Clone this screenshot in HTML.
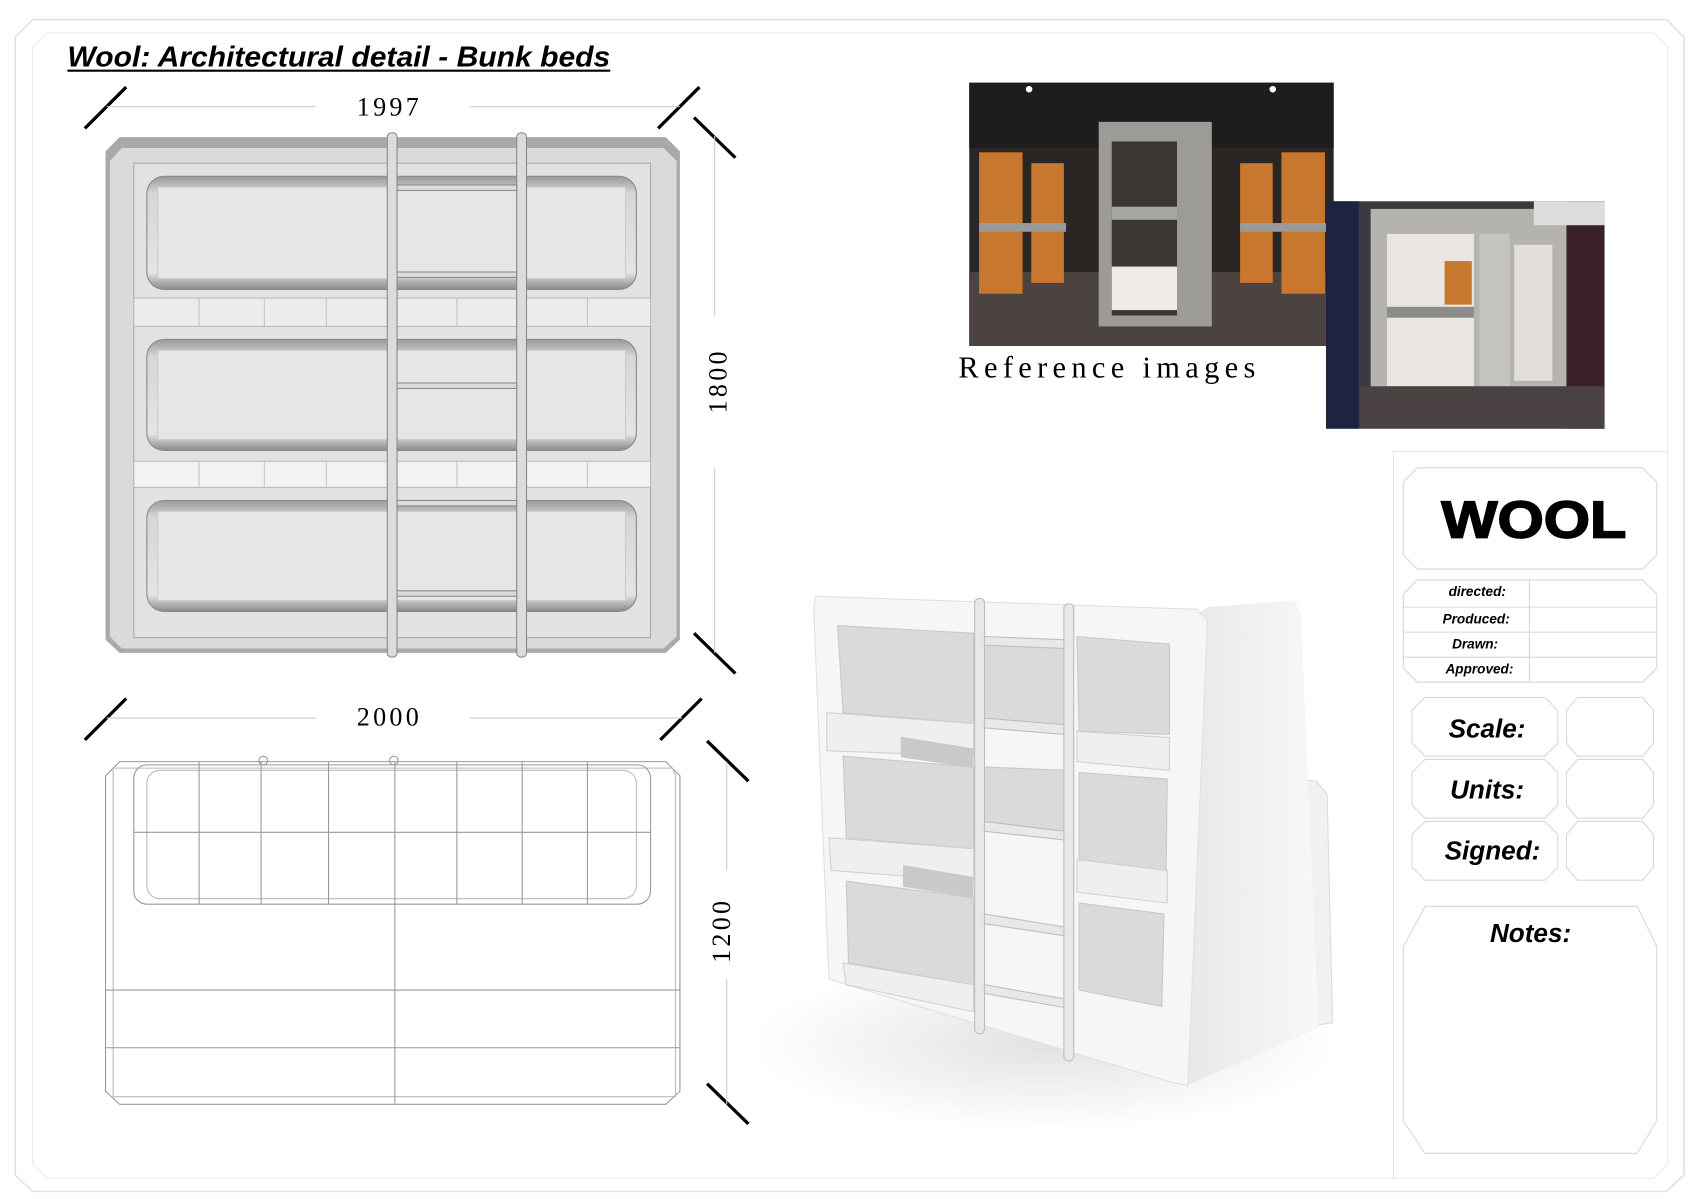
<!DOCTYPE html>
<html><head><meta charset="utf-8"><style>
html,body{margin:0;padding:0;background:#fff;}
svg{display:block;}
</style></head><body>
<svg width="1697" height="1199" viewBox="0 0 1560 1102" preserveAspectRatio="none" xmlns="http://www.w3.org/2000/svg" font-family="Liberation Sans, sans-serif">
<defs>
<linearGradient id="pg" x1="0" y1="0" x2="0" y2="1"><stop offset="0" stop-color="#9a9a9a"/><stop offset="0.15" stop-color="#d6d6d6"/><stop offset="0.85" stop-color="#e4e4e4"/><stop offset="1" stop-color="#8a8a8a"/></linearGradient>
<linearGradient id="sh" x1="0" y1="0" x2="1" y2="0"><stop offset="0" stop-color="#e8e8e8"/><stop offset="1" stop-color="#f8f8f8"/></linearGradient>
<radialGradient id="shadow" cx="0.5" cy="0.5" r="0.5"><stop offset="0" stop-color="#cfcfcf"/><stop offset="1" stop-color="#ffffff"/></radialGradient>
</defs>
<path d="M30,18 H1532 L1548,34 V1080 L1532,1095 H30 L14,1080 V34 Z" fill="none" stroke="#e2e2e2" stroke-width="1.5"/>
<path d="M44,30 H1520 L1533,43 V1070 L1520,1083 H44 L30,1070 V43 Z" fill="none" stroke="#ececec" stroke-width="1"/>
<text x="62" y="61" font-size="26" font-weight="bold" font-style="italic" fill="#000" textLength="499" lengthAdjust="spacingAndGlyphs">Wool: Architectural detail - Bunk beds</text>
<line x1="62" y1="65" x2="561" y2="65" stroke="#000" stroke-width="2"/>

<g stroke="#000" stroke-width="3">
<line x1="78" y1="118" x2="116" y2="80"/><line x1="605" y1="118" x2="643" y2="80"/>
<line x1="638" y1="108" x2="676" y2="145"/><line x1="638" y1="582" x2="676" y2="619"/>
<line x1="78" y1="680" x2="116" y2="642"/><line x1="607" y1="680" x2="645" y2="642"/>
<line x1="650" y1="681" x2="688" y2="718"/><line x1="650" y1="996" x2="688" y2="1033"/>
</g>
<g stroke="#ccc" stroke-width="1">
<line x1="98" y1="98" x2="290" y2="98"/><line x1="432" y1="98" x2="625" y2="98"/>
<line x1="657" y1="125" x2="657" y2="290"/><line x1="657" y1="430" x2="657" y2="600"/>
<line x1="98" y1="660" x2="290" y2="660"/><line x1="432" y1="660" x2="627" y2="660"/>
<line x1="668" y1="700" x2="668" y2="800"/><line x1="668" y1="900" x2="668" y2="1015"/>
</g>
<text x="358" y="106" font-family="Liberation Serif, serif" font-size="24" letter-spacing="3" text-anchor="middle">1997</text>
<text x="358" y="667" font-family="Liberation Serif, serif" font-size="24" letter-spacing="3" text-anchor="middle">2000</text>
<text transform="translate(668,350) rotate(-90)" font-family="Liberation Serif, serif" font-size="24" letter-spacing="3" text-anchor="middle">1800</text>
<text transform="translate(671,855) rotate(-90)" font-family="Liberation Serif, serif" font-size="24" letter-spacing="3" text-anchor="middle">1200</text>

<path d="M110,126 H612 L625,139 V588 L612,600 H110 L97,588 V139 Z" fill="#a9a9a9"/>
<path d="M112,136 H610 L622,148 V585 L610,596 H112 L101,585 V148 Z" fill="#dadada"/>
<rect x="123" y="150" width="475" height="436" fill="#e2e2e2" stroke="#aaa"/>
<g>
<rect x="135" y="162" width="450" height="104" rx="16" fill="url(#pg)" stroke="#888"/>
<rect x="145" y="172" width="430" height="84" fill="#e6e6e6" stroke="#ccc"/>
<rect x="135" y="312" width="450" height="102" rx="16" fill="url(#pg)" stroke="#888"/>
<rect x="145" y="322" width="430" height="82" fill="#e6e6e6" stroke="#ccc"/>
<rect x="135" y="460" width="450" height="102" rx="16" fill="url(#pg)" stroke="#888"/>
<rect x="145" y="470" width="430" height="82" fill="#e6e6e6" stroke="#ccc"/>
</g>
<rect x="123" y="274" width="475" height="26" fill="#ececec" stroke="#bbb"/>
<rect x="123" y="424" width="475" height="24" fill="#f2f2f2" stroke="#bbb"/>
<g stroke="#c4c4c4"><line x1="183" y1="274" x2="183" y2="300"/><line x1="243" y1="274" x2="243" y2="300"/><line x1="300" y1="274" x2="300" y2="300"/><line x1="420" y1="274" x2="420" y2="300"/><line x1="540" y1="274" x2="540" y2="300"/>
<line x1="183" y1="424" x2="183" y2="448"/><line x1="243" y1="424" x2="243" y2="448"/><line x1="300" y1="424" x2="300" y2="448"/><line x1="420" y1="424" x2="420" y2="448"/><line x1="540" y1="424" x2="540" y2="448"/></g>
<g fill="#dcdcdc" stroke="#888">
<rect x="356" y="122" width="9" height="482" rx="4"/><rect x="475" y="122" width="9" height="482" rx="4"/>
<rect x="365" y="170" width="110" height="5"/><rect x="365" y="250" width="110" height="5"/><rect x="365" y="352" width="110" height="5"/><rect x="365" y="460" width="110" height="5"/><rect x="365" y="543" width="110" height="5"/>
</g>

<g fill="none" stroke="#999" stroke-width="1">
<path d="M110,700 H612 L625,713 V1003 L612,1015 H110 L97,1003 V713 Z"/>
<path d="M104,706 H618 L621,712 V1008 L104,1008 Z" stroke="#bbb"/>
<rect x="123" y="703" width="475" height="128" rx="12"/>
<rect x="135" y="708" width="450" height="118" rx="12" stroke="#bbb"/>
<line x1="183" y1="700" x2="183" y2="831"/><line x1="240" y1="700" x2="240" y2="831"/><line x1="302" y1="700" x2="302" y2="831"/><line x1="363" y1="700" x2="363" y2="1015"/><line x1="420" y1="700" x2="420" y2="831"/><line x1="480" y1="700" x2="480" y2="831"/><line x1="540" y1="700" x2="540" y2="831"/>
<line x1="123" y1="765" x2="598" y2="765"/>
<line x1="97" y1="910" x2="625" y2="910"/><line x1="97" y1="963" x2="625" y2="963"/>
<rect x="238" y="695" width="8" height="8" rx="4"/><rect x="358" y="695" width="8" height="8" rx="4"/>
</g>

<ellipse cx="960" cy="960" rx="270" ry="80" fill="url(#shadow)" opacity="0.6"/>
<path d="M1185,715 L1210,718 L1220,730 L1225,940 L1190,945 Z" fill="#f1f1f1" stroke="#ddd"/>
<path d="M1100,565 L1110,558 L1190,552 L1196,565 L1212,945 L1090,998 Z" fill="url(#sh)"/>
<path d="M750,548 L1100,560 L1110,570 L1092,998 L1078,995 L762,900 L748,560 Z" fill="#f6f6f6" stroke="#e0e0e0"/>
<g fill="#dadada" stroke="#c8c8c8">
<path d="M770,575 L895,582 L895,665 L775,655 Z"/>
<path d="M990,585 L1075,592 L1075,675 L992,672 Z"/>
<path d="M775,695 L895,705 L895,780 L778,770 Z"/>
<path d="M992,710 L1073,716 L1072,800 L992,790 Z"/>
<path d="M778,810 L895,825 L895,905 L780,885 Z"/>
<path d="M992,830 L1070,840 L1068,925 L992,910 Z"/>
<path d="M905,590 L980,593 L980,668 L905,665 Z"/>
<path d="M905,705 L980,708 L980,765 L905,760 Z"/>
</g>
<g fill="#efefef" stroke="#d0d0d0">
<path d="M760,655 L895,665 L895,695 L760,690 Z"/>
<path d="M990,672 L1075,678 L1075,708 L990,700 Z"/>
<path d="M762,770 L895,780 L895,810 L764,800 Z"/>
<path d="M990,790 L1073,800 L1073,830 L990,820 Z"/>
<path d="M775,885 L895,905 L895,930 L778,905 Z"/>
</g>
<path d="M828,677 L895,688 L895,706 L828,696 Z" fill="#c9c9c9"/>
<path d="M830,795 L895,806 L895,825 L830,815 Z" fill="#c9c9c9"/>
<g fill="#e8e8e8" stroke="#bdbdbd">
<rect x="896" y="550" width="9" height="400" rx="4"/><rect x="978" y="555" width="9" height="420" rx="4"/>
<path d="M905,585 L978,588 L978,596 L905,593 Z"/><path d="M905,660 L978,666 L978,675 L905,669 Z"/>
<path d="M905,755 L978,764 L978,772 L905,764 Z"/><path d="M905,840 L978,852 L978,860 L905,849 Z"/>
<path d="M905,905 L978,918 L978,926 L905,913 Z"/>
</g>

<rect x="891" y="76" width="335" height="242" fill="#2b2624"/>
<rect x="891" y="76" width="335" height="60" fill="#1e1c1c"/>
<rect x="891" y="250" width="335" height="68" fill="#4a4340"/>
<g fill="#c8772e"><rect x="900" y="140" width="40" height="130"/><rect x="948" y="150" width="30" height="110"/><rect x="1140" y="150" width="30" height="110"/><rect x="1178" y="140" width="40" height="130"/></g>
<g fill="#9a9a9a"><rect x="900" y="205" width="80" height="8"/><rect x="1140" y="205" width="80" height="8"/></g>
<rect x="1010" y="112" width="104" height="188" fill="#9d9b98"/>
<rect x="1022" y="130" width="60" height="160" fill="#3a3634"/>
<rect x="1022" y="245" width="60" height="40" fill="#eeeae6"/>
<rect x="1022" y="190" width="60" height="12" fill="#a8a6a3"/>
<circle cx="946" cy="82" r="3" fill="#fff"/><circle cx="1170" cy="82" r="3" fill="#fff"/>

<rect x="1219" y="185" width="256" height="209" fill="#3b3a40"/>
<rect x="1219" y="185" width="30" height="209" fill="#1d2340"/>
<rect x="1260" y="192" width="180" height="170" fill="#b5b3b0"/>
<rect x="1440" y="185" width="35" height="209" fill="#3a2028"/>
<rect x="1275" y="215" width="80" height="140" fill="#e9e5e0"/>
<rect x="1360" y="215" width="28" height="140" fill="#c6c4c1"/>
<rect x="1392" y="225" width="35" height="125" fill="#e3dfda"/>
<rect x="1275" y="282" width="80" height="10" fill="#8e8c89"/>
<rect x="1328" y="240" width="25" height="40" fill="#c8772e"/>
<rect x="1250" y="355" width="225" height="39" fill="#4a4242"/>
<rect x="1410" y="185" width="65" height="22" fill="#ddd"/>

<text x="881" y="347" font-family="Liberation Serif, serif" font-size="28" textLength="273" lengthAdjust="spacing">Reference images</text>

<path d="M1281,415 H1533" stroke="#e6e6e6"/>
<path d="M1281,415 V1083" stroke="#e6e6e6"/>
<g fill="#fff" stroke="#d8d8d8" stroke-width="1">
<path d="M1303,430 H1510 L1523,443 V510 L1510,523 H1303 L1290,510 V443 Z"/>
<path d="M1303,533 H1510 L1523,546 V614 L1510,627 H1303 L1290,614 V546 Z"/>
<path d="M1310,641 H1420 L1432,653 V683 L1420,695 H1310 L1298,683 V653 Z"/>
<path d="M1450,641 H1510 L1520,653 V683 L1510,695 H1450 L1440,683 V653 Z"/>
<path d="M1310,698 H1420 L1432,710 V740 L1420,752 H1310 L1298,740 V710 Z"/>
<path d="M1450,698 H1510 L1520,710 V740 L1510,752 H1450 L1440,740 V710 Z"/>
<path d="M1310,755 H1420 L1432,767 V797 L1420,809 H1310 L1298,797 V767 Z"/>
<path d="M1450,755 H1510 L1520,767 V797 L1510,809 H1450 L1440,797 V767 Z"/>
<path d="M1310,833 H1505 L1523,870 V1030 L1505,1060 H1310 L1290,1030 V870 Z"/>
</g>
<g stroke="#d8d8d8"><line x1="1406" y1="533" x2="1406" y2="627"/><line x1="1290" y1="558" x2="1523" y2="558"/><line x1="1290" y1="581" x2="1523" y2="581"/><line x1="1290" y1="604" x2="1523" y2="604"/></g>
<text x="1325" y="494" font-size="48" font-weight="bold" fill="#000" stroke="#000" stroke-width="1.5" textLength="170" lengthAdjust="spacingAndGlyphs">WOOL</text>
<g font-size="12.5" font-weight="bold" font-style="italic" text-anchor="middle">
<text x="1358" y="548">directed:</text><text x="1357" y="573">Produced:</text><text x="1356" y="596">Drawn:</text><text x="1360" y="619">Approved:</text>
</g>
<g font-size="24" font-weight="bold" font-style="italic" text-anchor="middle">
<text x="1367" y="678">Scale:</text><text x="1367" y="734">Units:</text><text x="1372" y="790">Signed:</text><text x="1407" y="866">Notes:</text>
</g>
</svg>
</body></html>
